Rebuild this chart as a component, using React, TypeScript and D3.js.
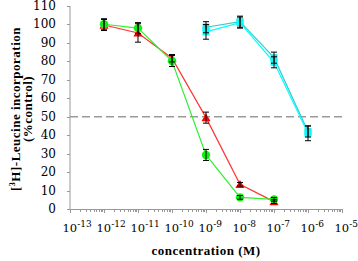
import React from "react";
import * as d3 from "d3";

const concRed = [1e-12, 1e-11, 1e-10, 1e-9, 1e-8, 1e-7];
const redValues = [99.7, 95.4, 81.7, 49.5, 13.4, 4];
const redErrors = [3, 5, 2, 3, 1, 1];

const concGreen = [1e-12, 1e-11, 1e-10, 1e-9, 1e-8, 1e-7];
const greenValues = [100.1, 98, 80.2, 29.3, 6.3, 5.2];
const greenErrors = [3, 3, 3, 3, 1, 1];

const concCyan = [1e-9, 1e-8, 1e-7, 1e-6];
const cyanValues = [96, 101, 79.5, 41];
const cyanErrors = [4, 3, 3, 4];
const tealValues = [98.5, 101.5, 82, 42];
const tealErrors = [3, 3, 3, 3];

const yTicks = [0, 10, 20, 30, 40, 50, 60, 70, 80, 90, 100, 110];
const xExponents = [-13, -12, -11, -10, -9, -8, -7, -6, -5];
const refLine = 50;

const W = 358;
const H = 261;
const left = 70;
const right = 342;
const top = 6;
const bottom = 209;

export default function App() {
  const x = d3.scaleLog().domain([1e-13, 1e-5]).range([left, right]);
  const y = d3.scaleLinear().domain([0, 110]).range([bottom, top]);
  const line = d3
    .line<[number, number]>()
    .x((d) => x(d[0]))
    .y((d) => y(d[1]));

  const minor: number[] = [];
  for (let e = -13; e < -5; e++) {
    for (let m = 2; m <= 9; m++) minor.push(m * Math.pow(10, e));
  }

  const errorBars = (cs: number[], vs: number[], es: number[], key: string) =>
    cs.map((c, i) => {
      const cx = x(c);
      const y1 = y(vs[i] + es[i]);
      const y2 = y(vs[i] - es[i]);
      return (
        <g key={key + i} stroke="#000" strokeWidth={1}>
          <line x1={cx} x2={cx} y1={y1} y2={y2} />
          <line x1={cx - 3} x2={cx + 3} y1={y1} y2={y1} />
          <line x1={cx - 3} x2={cx + 3} y1={y2} y2={y2} />
        </g>
      );
    });

  const tri = d3.symbol().type(d3.symbolTriangle).size(36)();

  return (
    <svg
      width={W}
      height={H}
      style={{ position: "absolute", left: 0, top: 0, background: "#fff" }}
    >
      {/* axes */}
      <g stroke="#999" strokeWidth={1} fill="none">
        <line x1={left} x2={left} y1={top} y2={bottom + 0.5} />
        <line x1={left - 3} x2={right} y1={bottom + 0.5} y2={bottom + 0.5} />
        {yTicks.map((t) => (
          <line key={"yt" + t} x1={left - 3} x2={left} y1={Math.round(y(t)) + 0.5} y2={Math.round(y(t)) + 0.5} />
        ))}
        {xExponents.map((e) => (
          <line key={"xt" + e} x1={Math.round(x(Math.pow(10, e))) + 0.5} x2={Math.round(x(Math.pow(10, e))) + 0.5} y1={bottom} y2={bottom + 4} />
        ))}
        {minor.map((m, i) => (
          <line key={"mt" + i} x1={Math.round(x(m)) + 0.5} x2={Math.round(x(m)) + 0.5} y1={bottom} y2={bottom + 3} />
        ))}
      </g>

      {/* y tick labels */}
      <g fontFamily="DejaVu Serif" fontSize={12} fill="#000" textAnchor="end">
        {yTicks.map((t) => (
          <text key={"yl" + t} x={56} y={y(t) + 4}>
            {t}
          </text>
        ))}
      </g>

      {/* x tick labels */}
      <g fontFamily="DejaVu Serif" fontSize={11.5} fill="#000">
        {xExponents.map((e) => (
          <text key={"xl" + e} x={x(Math.pow(10, e)) - 7.5} y={232}>
            10
            <tspan fontSize={9} dy={-5}>
              {String(e)}
            </tspan>
          </text>
        ))}
      </g>

      {/* reference dashed line */}
      <line
        x1={left}
        x2={right}
        y1={y(refLine)}
        y2={y(refLine)}
        stroke="#999"
        strokeWidth={1.3}
        strokeDasharray="8,4"
      />

      {/* lines */}
      <path d={line(concCyan.map((c, i) => [c, tealValues[i]]) as [number, number][]) || ""} fill="none" stroke="#33cccc" strokeWidth={1.2} />
      <path d={line(concCyan.map((c, i) => [c, cyanValues[i]]) as [number, number][]) || ""} fill="none" stroke="#00ffff" strokeWidth={1.2} />
      <path d={line(concRed.map((c, i) => [c, redValues[i]]) as [number, number][]) || ""} fill="none" stroke="#ff3333" strokeWidth={1.2} />
      <path d={line(concGreen.map((c, i) => [c, greenValues[i]]) as [number, number][]) || ""} fill="none" stroke="#33ee33" strokeWidth={1.2} />

      {/* markers */}
      {concCyan.map((c, i) => (
        <rect key={"ts" + i} x={x(c) - 3.5} y={y(tealValues[i]) - 3.5} width={7} height={7} fill="#33dddd" />
      ))}
      {concCyan.map((c, i) => (
        <rect key={"cs" + i} x={x(c) - 3.5} y={y(cyanValues[i]) - 3.5} width={7} height={7} fill="#00ffff" />
      ))}
      {concRed.map((c, i) => (
        <path key={"rt" + i} d={tri || ""} transform={`translate(${x(c)},${y(redValues[i]) + 1})`} fill="#ff0000" />
      ))}
      {concGreen.map((c, i) => (
        <circle key={"gc" + i} cx={x(c)} cy={y(greenValues[i])} r={4.2} fill="#11ee11" />
      ))}

      {/* error bars */}
      {errorBars(concCyan, tealValues, tealErrors, "te")}
      {errorBars(concCyan, cyanValues, cyanErrors, "ce")}
      {errorBars(concRed, redValues, redErrors, "re")}
      {errorBars(concGreen, greenValues, greenErrors, "ge")}

      {/* axis titles */}
      <text
        x={206}
        y={255}
        textAnchor="middle"
        fontFamily="Liberation Serif"
        fontWeight="bold"
        fontSize={13}
        letterSpacing={0.5}
        fill="#000"
      >
        concentration (M)
      </text>
      <g transform="translate(19.5,109) rotate(-90)" fontFamily="Liberation Serif" fontWeight="bold" fontSize={13} letterSpacing={0.5} fill="#000" textAnchor="middle">
        <text x={0} y={0}>
          [<tspan fontSize={8} dy={-5}>3</tspan>
          <tspan dy={5}>H]-Leucine incorporation</tspan>
        </text>
        <text x={0} y={12}>(%control)</text>
      </g>
    </svg>
  );
}
